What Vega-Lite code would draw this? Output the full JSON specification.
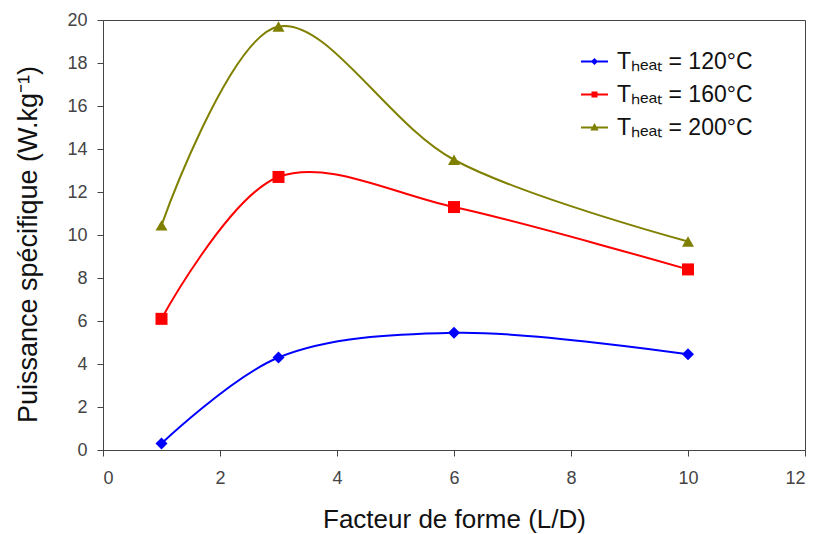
{
  "$schema": "https://vega.github.io/schema/vega-lite/v6.json",
  "width": 702,
  "height": 430,
  "autosize": {"type": "none"},
  "padding": {"left": 103, "top": 20, "right": 15, "bottom": 84},
  "background": "white",
  "config": {
    "font": "Liberation Sans",
    "view": {"stroke": "#444", "strokeWidth": 1}
  },
  "data": {
    "values": [
      {"ld": 1, "p": 0.3, "serie": "120"},
      {"ld": 3, "p": 4.3, "serie": "120"},
      {"ld": 6, "p": 5.45, "serie": "120"},
      {"ld": 10, "p": 4.45, "serie": "120"},
      {"ld": 1, "p": 6.1, "serie": "160"},
      {"ld": 3, "p": 12.7, "serie": "160"},
      {"ld": 6, "p": 11.3, "serie": "160"},
      {"ld": 10, "p": 8.4, "serie": "160"},
      {"ld": 1, "p": 10.45, "serie": "200"},
      {"ld": 3, "p": 19.7, "serie": "200"},
      {"ld": 6, "p": 13.5, "serie": "200"},
      {"ld": 10, "p": 9.7, "serie": "200"}
    ]
  },
  "resolve": {"scale": {"shape": "independent", "color": "independent", "stroke": "independent"}, "legend": {"shape": "independent", "color": "independent", "stroke": "independent"}},
  "encoding": {
    "x": {
      "field": "ld", "type": "quantitative",
      "scale": {"domain": [0, 12], "nice": false},
      "axis": {
        "values": [0, 2, 4, 6, 8, 10, 12],
        "title": "Facteur de forme (L/D)",
        "titleFontSize": 26, "titleFontWeight": "normal", "titleColor": "#111",
        "titlePadding": 19,
        "labelFontSize": 18, "labelColor": "#444", "labelPadding": 13,
        "grid": false, "domainColor": "#444", "tickColor": "#444", "tickSize": 6
      }
    },
    "y": {
      "field": "p", "type": "quantitative",
      "scale": {"domain": [0, 20], "nice": false},
      "axis": {
        "values": [0, 2, 4, 6, 8, 10, 12, 14, 16, 18, 20],
        "title": "Puissance spécifique (W.kg⁻¹)",
        "titleFontSize": 27, "titleFontWeight": "normal", "titleColor": "#111",
        "titlePadding": 24, "titleY": 224,
        "labelFontSize": 18, "labelColor": "#444", "labelPadding": 10,
        "grid": false, "domainColor": "#444", "tickColor": "#444", "tickSize": 6
      }
    }
  },
  "layer": [
    {
      "mark": {"type": "line", "interpolate": "catmull-rom", "strokeWidth": 2},
      "encoding": {
        "stroke": {
          "field": "serie", "type": "nominal",
          "scale": {"domain": ["120", "160", "200"], "range": ["#0000ff", "#ff0000", "#808000"]},
          "legend": {
            "orient": "none", "legendX": 477, "legendY": 27,
            "title": null,
            "labelExpr": "'Tₕₑₐₜ = ' + datum.label + '°C'",
            "labelFontSize": 23, "labelColor": "#111", "labelLimit": 300,
            "rowPadding": 6, "symbolSize": 729, "labelOffset": 8,
            "symbolType": "M-1,0H1",
            "symbolStrokeWidth": 2,
            "encode": {
              "symbols": {
                "update": {
                  "shape": {"signal": "datum.value === '120' ? 'M-1,0H1M0,-0.16L0.16,0L0,0.16L-0.16,0Z' : datum.value === '160' ? 'M-1,0H1M-0.15,-0.15H0.15V0.15H-0.15Z' : 'M-1,0H1M0,-0.18L0.18,0.14H-0.18Z'"},
                  "fill": {"signal": "datum.value === '120' ? '#0000ff' : datum.value === '160' ? '#ff0000' : '#808000'"},
                  "stroke": {"signal": "datum.value === '120' ? '#0000ff' : datum.value === '160' ? '#ff0000' : '#808000'"},
                  "strokeWidth": {"value": 2}
                }
              }
            }
          }
        }
      }
    },
    {
      "mark": {"type": "point", "filled": true, "opacity": 1},
      "encoding": {
        "color": {
          "field": "serie", "type": "nominal",
          "scale": {"domain": ["120", "160", "200"], "range": ["#0000ff", "#ff0000", "#808000"]},
          "legend": null
        },
        "shape": {
          "field": "serie", "type": "nominal",
          "scale": {"domain": ["120", "160", "200"], "range": ["diamond", "square", "triangle-up"]},
          "legend": null
        },
        "size": {"value": 144}
      }
    }
  ]
}
